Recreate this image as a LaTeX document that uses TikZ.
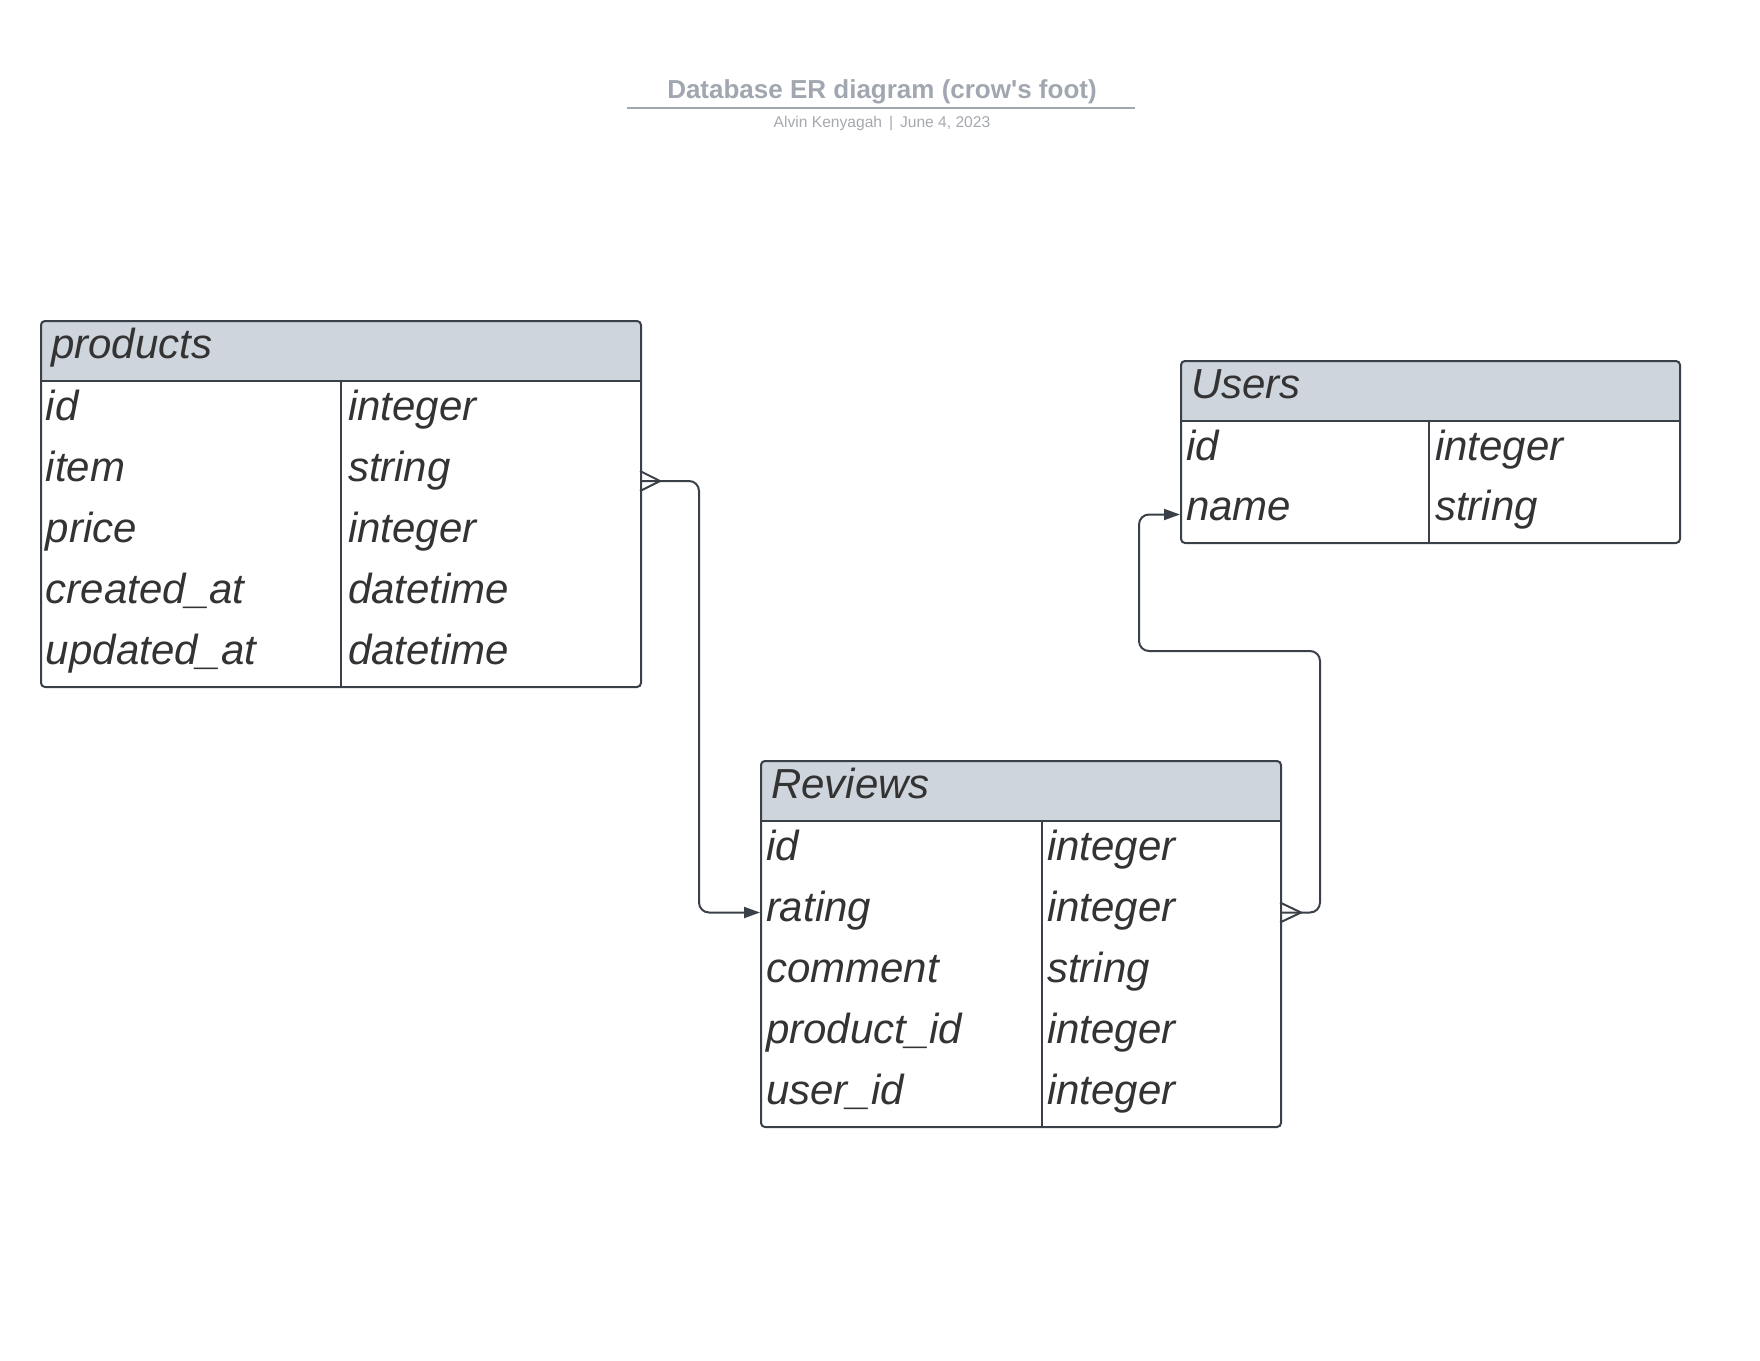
\documentclass[tikz,border=0pt]{standalone}
\usepackage{fontspec}
\setmainfont{Liberation Sans}
\usetikzlibrary{arrows.meta}

\definecolor{erline}{RGB}{58,64,72}
\definecolor{erhead}{RGB}{207,213,221}
\definecolor{ertext}{RGB}{51,51,51}
\definecolor{ertitle}{RGB}{161,167,176}
\definecolor{ersub}{RGB}{165,168,174}

\tikzset{every picture/.style={line width=1pt}}
\tikzset{
  tablebox/.style={draw=erline, rounded corners=2pt, inner sep=0pt, anchor=north west},
  headfill/.style={fill=erhead},
  cell/.style={anchor=base west, inner sep=0pt, text=ertext, font=\fontsize{21}{25}\selectfont\itshape},
  link/.style={draw=erline, rounded corners=5pt},
  onearrow/.style={-{Triangle[length=8pt,width=5.5pt]}},
  crowfoot/.style={draw=erline},
}

\begin{document}
\begin{tikzpicture}[x=0.5pt,y=0.5pt,yscale=-1,xscale=1]
	\useasboundingbox (0,0) rectangle (1760,1360);

	% Title
	\node [font=\fontsize{13}{15}\selectfont\bfseries, text=ertitle] (title) at (882,91.5) {Database ER diagram (crow\textquotesingle s foot)};
	\coordinate (rule-l) at (627,108);
	\coordinate (rule-r) at (1135,108);
	\draw [draw=ertitle] (rule-l) -- (rule-r);
	\node [font=\fontsize{7.8}{10}\selectfont, text=ersub] (subtitle) at (882,123) {Alvin Kenyagah \,|\, June 4, 2023};

	%Table: products
	\begin{scope}
		\clip [rounded corners=2pt] (40,320) rectangle (640,686);
		\fill [headfill] (40,320) rectangle (640,381);
	\end{scope}
	\node [tablebox, minimum width=300pt, minimum height=183pt] (products) at (40,320) {};
	\draw [erline] (40,381) -- (640,381);
	\draw [erline] (341,381) -- (341,686);
	\node [cell] (products-title) at (50,358.5) {products};
	\foreach \f/\t [count=\i] in {id/integer, item/string, price/integer, created\_at/datetime, updated\_at/datetime} {
		\node [cell] (products-f\i) at ({45},{381+61*(\i-1)+39}) {\f};
		\node [cell] (products-t\i) at ({347},{381+61*(\i-1)+39}) {\t};
	}

	%Table: Users
	\begin{scope}
		\clip [rounded corners=2pt] (1180,360) rectangle (1679,542);
		\fill [headfill] (1180,360) rectangle (1679,421);
	\end{scope}
	\node [tablebox, minimum width=249.5pt, minimum height=91pt] (users) at (1180,360) {};
	\draw [erline] (1180,421) -- (1679,421);
	\draw [erline] (1429,421) -- (1429,542);
	\node [cell] (users-title) at (1190,398.5) {Users};
	\foreach \f/\t [count=\i] in {id/integer, name/string} {
		\node [cell] (users-f\i) at ({1185},{421+60.5*(\i-1)+39}) {\f};
		\node [cell] (users-t\i) at ({1434},{421+60.5*(\i-1)+39}) {\t};
	}

	%Table: Reviews
	\begin{scope}
		\clip [rounded corners=2pt] (760,760) rectangle (1280,1126);
		\fill [headfill] (760,760) rectangle (1280,821);
	\end{scope}
	\node [tablebox, minimum width=260pt, minimum height=183pt] (reviews) at (760,760) {};
	\draw [erline] (760,821) -- (1280,821);
	\draw [erline] (1042,821) -- (1042,1126);
	\node [cell] (reviews-title) at (770,798.5) {Reviews};
	\foreach \f/\t [count=\i] in {id/integer, rating/integer, comment/string, product\_id/integer, user\_id/integer} {
		\node [cell] (reviews-f\i) at ({765},{821+61*(\i-1)+39}) {\f};
		\node [cell] (reviews-t\i) at ({1046},{821+61*(\i-1)+39}) {\t};
	}

	%Connector ends
	\coordinate (products-out) at (640,481);
	\coordinate (reviews-in) at (760,912.5);
	\coordinate (reviews-out) at (1280,912.5);
	\coordinate (users-in) at (1180,514.5);

	%Straight Lines: products -> Reviews
	\draw [link, onearrow] (products-out) -- (699,481) -- (699,912.5) -- (reviews-in);
	\draw [crowfoot] ([yshift=-5pt]products-out) -- ([xshift=10pt]products-out) -- ([yshift=5pt]products-out);

	%Straight Lines: Reviews -> Users
	\draw [link, onearrow] (reviews-out) -- (1320,912.5) -- (1320,651) -- (1139,651) -- (1139,514.5) -- (users-in);
	\draw [crowfoot] ([yshift=-5pt]reviews-out) -- ([xshift=10.5pt]reviews-out) -- ([yshift=5pt]reviews-out);
\end{tikzpicture}
\end{document}
